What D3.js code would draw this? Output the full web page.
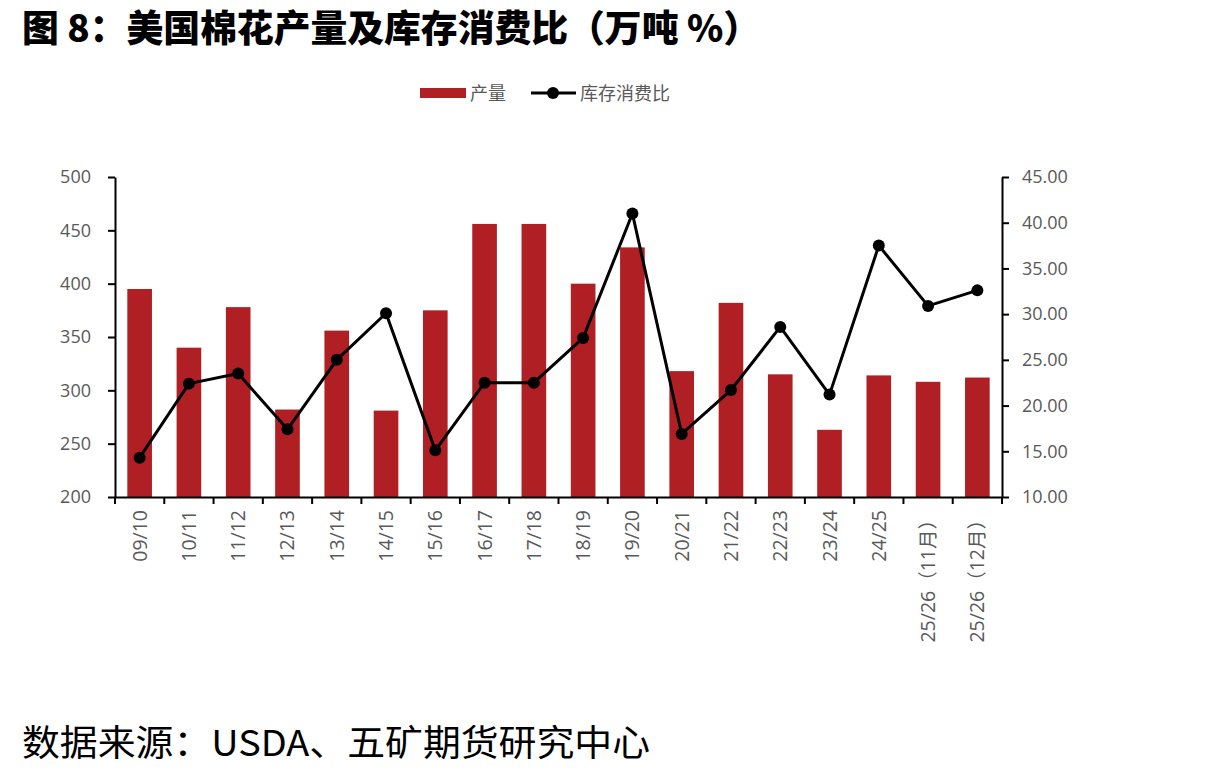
<!DOCTYPE html>
<html><head><meta charset="utf-8">
<script src="https://cdn.jsdelivr.net/npm/d3@7"></script>
<style>
body{margin:0;background:#fff;}
svg{display:block;}
</style></head>
<body>
<svg id="c" width="1217" height="773"></svg>
<script>
const categories = ["09/10","10/11","11/12","12/13","13/14","14/15","15/16","16/17","17/18","18/19","19/20","20/21","21/22","22/23","23/24","24/25","25/26（11月）","25/26（12月）"];
const production = [395,340,378,282,356,281,375,456,456,400,434,318,382,315,263,314,308,312];
const stockRatio = [14.3,22.4,23.5,17.4,25.0,30.1,15.1,22.5,22.5,27.4,41.0,16.9,21.7,28.6,21.2,37.5,30.9,32.6];
const leftTicks = [200,250,300,350,400,450,500];
const rightTicks = [10,15,20,25,30,35,40,45];

const svg = d3.select("#c");
const L = 115, R = 1002, T = 177, B = 497;
const barColor = "#B01F24";
const textGray = "#595959";
const tickFont = "'Open Sans', 'Noto Sans CJK SC', sans-serif";

const x = d3.scaleBand().domain(categories).range([L, R]).paddingInner(0.5).paddingOuter(0.25);
const xb = d3.scaleBand().domain(categories).range([L, R]);
const yL = d3.scaleLinear().domain([200, 500]).range([B, T]);
const yR = d3.scaleLinear().domain([10, 45]).range([B, T]);

// title
svg.append("text").attr("x", 22).attr("y", 42)
  .attr("font-family", "'Noto Sans CJK SC', sans-serif").attr("font-weight", 900)
  .attr("font-size", 37).attr("fill", "#000")
  .attr("textLength", 738).attr("lengthAdjust", "spacingAndGlyphs")
  .text("图 8：美国棉花产量及库存消费比（万吨 %）");

// footer
svg.append("text").attr("x", 22).attr("y", 756)
  .attr("font-family", "'Noto Sans CJK SC', sans-serif").attr("font-weight", 400)
  .attr("font-size", 36).attr("fill", "#000")
  .attr("textLength", 628).attr("lengthAdjust", "spacingAndGlyphs")
  .text("数据来源：USDA、五矿期货研究中心");

// bars
svg.append("g").selectAll("rect").data(categories).join("rect")
  .attr("x", d => x(d))
  .attr("width", x.bandwidth())
  .attr("y", (d, i) => yL(production[i]))
  .attr("height", (d, i) => yL(200) - yL(production[i]))
  .attr("fill", barColor);

// line
const line = d3.line().x((d, i) => xb(categories[i]) + xb.bandwidth() / 2).y(d => yR(d));
svg.append("path").datum(stockRatio).attr("d", line)
  .attr("fill", "none").attr("stroke", "#000").attr("stroke-width", 3).attr("stroke-linejoin", "round");
svg.append("g").selectAll("circle").data(stockRatio).join("circle")
  .attr("cx", (d, i) => xb(categories[i]) + xb.bandwidth() / 2)
  .attr("cy", d => yR(d)).attr("r", 6).attr("fill", "#000");

// left axis
const gL = svg.append("g").attr("transform", `translate(${L},0)`)
  .call(d3.axisLeft(yL).tickValues(leftTicks).tickSize(7).tickPadding(17).tickSizeOuter(0));
// right axis
const gR = svg.append("g").attr("transform", `translate(${R},0)`)
  .call(d3.axisRight(yR).tickValues(rightTicks).tickSize(7).tickPadding(13).tickSizeOuter(0).tickFormat(d3.format(".2f")));
// bottom axis
const gB = svg.append("g").attr("transform", `translate(0,${B})`)
  .call(d3.axisBottom(xb).tickSize(0).tickSizeOuter(0).tickFormat(""));
gB.selectAll(".tick").remove();
const bounds = categories.map(c => xb(c)).concat([R]);
gB.selectAll("line.bt").data(bounds).join("line").attr("class","bt")
  .attr("x1", d => d).attr("x2", d => d).attr("y1", 0).attr("y2", 7)
  .attr("stroke", "#000").attr("stroke-width", 2);

[gL, gR, gB].forEach(g => {
  g.selectAll(".domain").attr("stroke", "#000").attr("stroke-width", 2);
  g.selectAll(".tick line").attr("stroke", "#000").attr("stroke-width", 2);
  g.selectAll(".tick text").attr("fill", textGray).attr("font-size", 18).attr("font-family", tickFont);
});

// x labels rotated
svg.append("g").selectAll("text").data(categories).join("text")
  .attr("transform", d => `translate(${xb(d) + xb.bandwidth() / 2 + 7},${B + 13}) rotate(-90)`)
  .attr("text-anchor", "end")
  .attr("fill", textGray).attr("font-size", 19.5).attr("font-family", tickFont)
  .text(d => d);

// legend
const lg = svg.append("g");
lg.append("rect").attr("x", 420).attr("y", 88).attr("width", 46).attr("height", 10).attr("fill", barColor);
lg.append("text").attr("x", 470).attr("y", 100).attr("fill", textGray).attr("font-size", 18)
  .attr("font-family", "'Noto Sans CJK SC', sans-serif").text("产量");
lg.append("line").attr("x1", 531).attr("x2", 576).attr("y1", 93).attr("y2", 93).attr("stroke", "#000").attr("stroke-width", 3);
lg.append("circle").attr("cx", 553).attr("cy", 93).attr("r", 6).attr("fill", "#000");
lg.append("text").attr("x", 580).attr("y", 100).attr("fill", textGray).attr("font-size", 18)
  .attr("font-family", "'Noto Sans CJK SC', sans-serif").text("库存消费比");
</script>
</body></html>
